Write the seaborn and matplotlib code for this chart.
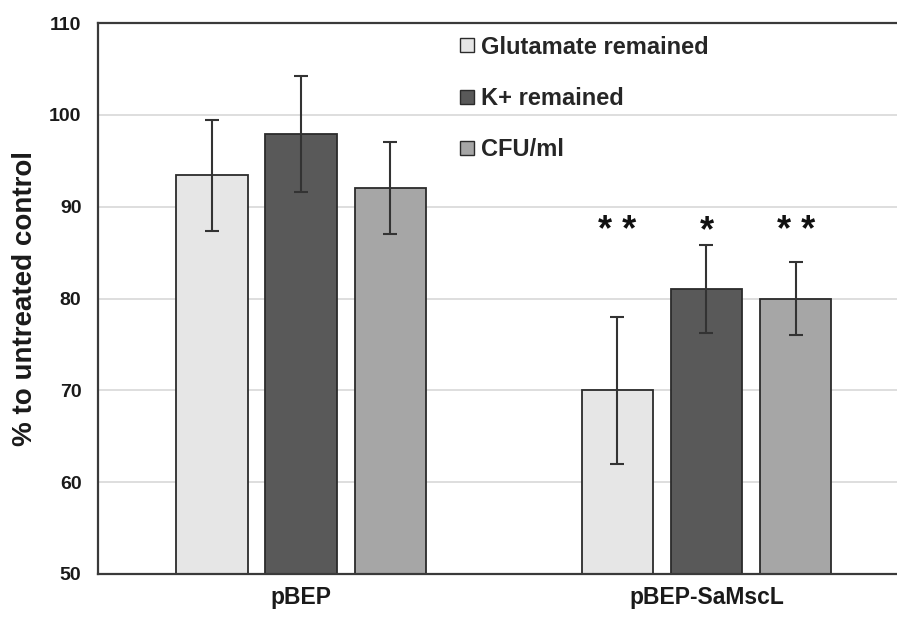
import matplotlib
matplotlib.use("Agg")
import matplotlib.pyplot as plt
from matplotlib.lines import Line2D
import seaborn as sns
import pandas as pd

categories = ["pBEP", "pBEP-SaMscL"]
series = ["Glutamate remained", "K+ remained", "CFU/ml"]
glutamate = [93.4, 70.0]
potassium = [97.9, 81.0]
cfu = [92.0, 80.0]
glutamate_err = [6.0, 8.0]
potassium_err = [6.3, 4.8]
cfu_err = [5.0, 4.0]
significance = [["", "", ""], ["* *", "*", "* *"]]
sig_level = 87.3
colors = ["#e6e6e6", "#595959", "#a6a6a6"]

values = [glutamate, potassium, cfu]
errors = [glutamate_err, potassium_err, cfu_err]
rows = []
for s, vals, errs in zip(series, values, errors):
    for c, v, e in zip(categories, vals, errs):
        rows.append({"group": c, "series": s, "value": v, "err": e})
df = pd.DataFrame(rows)

sns.set_theme(style="white")
plt.rcParams["font.family"] = ["Liberation Sans", "DejaVu Sans"]
plt.rcParams["font.weight"] = "bold"

fig = plt.figure(figsize=(8.97, 6.17), dpi=100)
ax = fig.add_axes([0.1093, 0.0697, 0.8907, 0.893])

sns.barplot(data=df, x="group", y="value", hue="series", order=categories,
            hue_order=series, palette=colors, width=0.66, gap=0.2,
            errorbar=None, edgecolor="#2b2b2b", linewidth=1.3, ax=ax,
            legend=False)

bar_containers = list(ax.containers)
for ci, cont in enumerate(bar_containers):
    xs = [p.get_x() + p.get_width() / 2 for p in cont.patches]
    ax.errorbar(xs, values[ci], yerr=errors[ci], fmt="none",
                ecolor="#333333", elinewidth=1.5, capsize=5, capthick=1.5,
                zorder=4)
    for gi, p in enumerate(cont.patches):
        lab = significance[gi][ci]
        if lab:
            ax.text(p.get_x() + p.get_width() / 2, sig_level, lab,
                    ha="center", va="center", fontsize=26,
                    fontweight="bold", color="#111111")

ax.set_ylim(50, 110)
ax.set_xlim(-0.501, 1.47)
ax.set_yticks([50, 60, 70, 80, 90, 100, 110])
ax.yaxis.grid(True, color="#d4d4d4", linewidth=1.1)
ax.set_axisbelow(True)
ax.tick_params(axis="y", length=0, pad=12, labelsize=14)
ax.tick_params(axis="x", length=0, pad=9, labelsize=16.5)
for lab in ax.get_yticklabels() + ax.get_xticklabels():
    lab.set_fontweight("bold")
    lab.set_color("#1a1a1a")
ax.set_xlabel("")
ax.set_ylabel("% to untreated control", fontsize=20, fontweight="bold",
              color="#1a1a1a", labelpad=8)

for side in ["left", "bottom", "top"]:
    ax.spines[side].set_visible(True)
    ax.spines[side].set_color("#3a3a3a")
    ax.spines[side].set_linewidth(1.6)
ax.spines["right"].set_visible(False)

handles = [Line2D([0], [0], marker="s", linestyle="none", markersize=10,
                  markerfacecolor=c, markeredgecolor="#2b2b2b",
                  markeredgewidth=1.0) for c in colors]
leg = ax.legend(handles, series, loc="upper left",
                bbox_to_anchor=(0.451, 0.977), frameon=False,
                prop={"size": 17, "weight": "bold"}, labelspacing=1.2,
                handlelength=0.7, handletextpad=0.25, borderpad=0,
                borderaxespad=0)

fig.savefig("out.png", dpi=100)
